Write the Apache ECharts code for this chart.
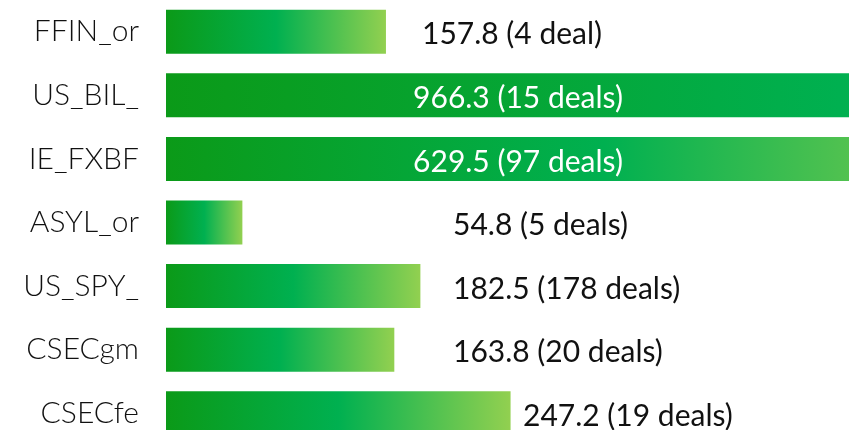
<!DOCTYPE html>
<html>
<head>
<meta charset="utf-8">
<script src="https://cdn.jsdelivr.net/npm/echarts@6/dist/echarts.min.js"></script>
<style>
html,body{margin:0;padding:0;background:#fff;}
#chart{width:849px;height:430px;}
</style>
</head>
<body>
<div id="chart"></div>
<script>
// ---- data ----
const categories = ['FFIN_or', 'US_BIL_', 'IE_FXBF', 'ASYL_or', 'US_SPY_', 'CSECgm', 'CSECfe'];
const values = [157.8, 966.3, 629.5, 54.8, 182.5, 163.8, 247.2];
const deals = [4, 15, 97, 5, 178, 20, 19];
const dealWords = ['deal', 'deals', 'deals', 'deals', 'deals', 'deals', 'deals'];

// ---- style (label placement relative to bar start, px) ----
const labelInside = [false, true, true, false, false, false, false];
const labelLeftPx = [256, 352, 352, 287, 287, 287, 357];

const chart = echarts.init(document.getElementById('chart'), null, {renderer: 'canvas'});

const barGradient = new echarts.graphic.LinearGradient(0, 0, 1, 0, [
  {offset: 0, color: '#0b9a18'},
  {offset: 0.5, color: '#00b050'},
  {offset: 1, color: '#92d050'}
]);

const seriesData = values.map((v, i) => ({
  value: v,
  label: {
    show: true,
    position: [labelLeftPx[i], '50%'],
    align: labelInside[i] ? 'center' : 'left',
    verticalAlign: 'middle',
    offset: [0, 3],
    color: labelInside[i] ? '#ffffff' : '#111111',
    fontFamily: 'Lato',
    fontSize: 30,
    formatter: () => values[i] + ' (' + deals[i] + ' ' + dealWords[i] + ')'
  }
}));

chart.setOption({
  animation: false,
  grid: {left: 166, width: 683, top: 0, height: 445, containLabel: false, outerBoundsMode: 'none'},
  xAxis: {
    type: 'value', min: 0, max: 490,
    show: false, splitLine: {show: false}
  },
  yAxis: {
    type: 'category',
    data: categories,
    inverse: true,
    axisLine: {show: false},
    axisTick: {show: false},
    splitLine: {show: false},
    axisLabel: {
      margin: 27,
      color: '#111111',
      fontFamily: 'Lato',
      fontWeight: 300,
      fontSize: 30
    }
  },
  series: [{
    type: 'bar',
    data: seriesData,
    barWidth: 44,
    clip: false,
    itemStyle: {color: barGradient}
  }]
});
</script>
</body>
</html>
